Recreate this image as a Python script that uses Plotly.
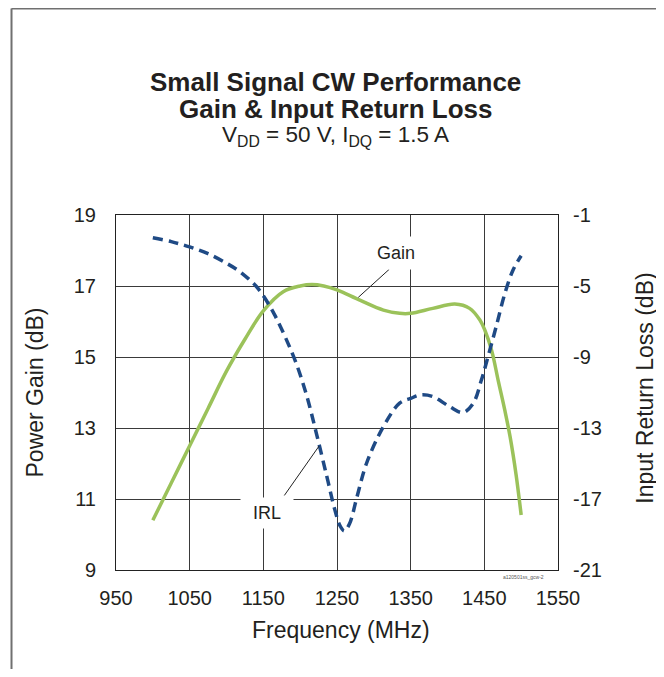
import plotly.graph_objects as go

# ---- data ----
gain_freq = [1000, 1025, 1050, 1075, 1100, 1125, 1150, 1177, 1200, 1216, 1232, 1250,
             1281, 1313, 1335, 1350, 1380, 1410, 1430, 1444, 1451, 1460, 1469, 1478,
             1485, 1493, 1500]
gain_db = [10.4, 11.45, 12.5, 13.55, 14.6, 15.5, 16.3, 16.84, 17.0, 17.04, 17.0, 16.89,
           16.6, 16.32, 16.23, 16.23, 16.37, 16.49, 16.37, 16.04, 15.74, 15.18, 14.32, 13.48,
           12.75, 11.7, 10.55]

irl_freq = [1000, 1025, 1050, 1075, 1100, 1115, 1130, 1140, 1150, 1165, 1180, 1195, 1209,
            1222, 1236, 1247, 1254, 1260, 1267, 1277, 1290, 1313, 1335, 1350, 1363, 1380,
            1403, 1421, 1435, 1446, 1455, 1466, 1478, 1489, 1500]
irl_db = [-2.28, -2.5, -2.8, -3.18, -3.72, -4.1, -4.6, -5.0, -5.55, -6.6, -7.9, -9.4, -11.2,
          -13.3, -15.7, -17.6, -18.5, -18.8, -18.4, -16.9, -15.0, -12.92, -11.6, -11.33, -11.14, -11.23,
          -11.8, -12.13, -11.6, -10.3, -8.98, -7.3, -5.4, -4.1, -3.3]

x_ticks = [950, 1050, 1150, 1250, 1350, 1450, 1550]
gain_ticks = [9, 11, 13, 15, 17, 19]
irl_ticks = [-21, -17, -13, -9, -5, -1]

FONT = "Liberation Sans, Arial, Helvetica, sans-serif"
TXT = "#231f20"
GREEN = "#9bc25a"
BLUE = "#1f4a85"

fig = go.Figure()
fig.add_trace(go.Scatter(x=gain_freq, y=gain_db, mode="lines", name="Gain",
                         line=dict(color=GREEN, width=3.5, shape="spline", smoothing=1),
                         yaxis="y", showlegend=False))
fig.add_trace(go.Scatter(x=irl_freq, y=irl_db, mode="lines", name="IRL",
                         line=dict(color=BLUE, width=3.5, shape="spline", smoothing=1,
                                   dash="10px,6px"),
                         yaxis="y2", showlegend=False))

grid = "#3a3a3a"
fig.update_layout(
    width=656, height=661,
    margin=dict(l=108, r=106, t=207, b=99),
    paper_bgcolor="white", plot_bgcolor="white",
    font=dict(family=FONT, color=TXT, size=20),
    xaxis=dict(range=[950, 1550], tickvals=x_ticks, ticktext=[str(v) for v in x_ticks],
               showgrid=True, gridcolor=grid, gridwidth=1, zeroline=False,
               showline=True, linecolor="#222", linewidth=1, mirror=True,
               ticks="", ticklabelstandoff=10, tickfont=dict(size=20, family=FONT, color=TXT)),
    yaxis=dict(range=[9, 19], tickvals=gain_ticks, ticktext=[str(v) for v in gain_ticks],
               showgrid=True, gridcolor=grid, gridwidth=1, zeroline=False,
               showline=True, linecolor="#222", linewidth=1, mirror=True,
               ticks="", ticklabelstandoff=15, tickfont=dict(size=20, family=FONT, color=TXT)),
    yaxis2=dict(range=[-21, -1], tickvals=irl_ticks, ticktext=[str(v) for v in irl_ticks],
                overlaying="y", side="right", showgrid=False, zeroline=False,
                showline=False, ticks="", ticklabelstandoff=14,
                tickfont=dict(size=20, family=FONT, color=TXT)),
)

def note(text, x, y, size, **kw):
    fig.add_annotation(text=text, xref="paper", yref="paper", x=x, y=y,
                       xanchor="center", yanchor="middle", showarrow=False,
                       font=dict(size=size, family=FONT, color=TXT), **kw)

# titles
note("<b>Small Signal CW Performance</b>", 0.4955, 1.3746, 26)
note("<b>Gain & Input Return Loss</b>", 0.4955, 1.2986, 26)
note("V<sub>DD</sub> = 50 V, I<sub>DQ</sub> = 1.5 A", 0.4955, 1.2225, 22.5)

# axis titles
note("Frequency (MHz)", 0.510, -0.169, 23)
note("Power Gain (dB)", -0.1833, 0.5, 23, textangle=-90)
note("Input Return Loss (dB)", 1.198, 0.512, 23, textangle=-90)

# curve labels with leader lines
fig.add_shape(type="line", xref="x", yref="y", x0=1320.9, y0=17.47, x1=1278.9, y1=16.68,
              line=dict(color="#222", width=1))
fig.add_shape(type="line", xref="x", yref="y", x0=1178.5, y0=11.1, x1=1225.6, y1=12.49,
              line=dict(color="#222", width=1))
fig.add_annotation(text="Gain", xref="x", yref="y", x=1329.6, y=17.92, showarrow=False,
                   xanchor="center", yanchor="middle",
                   bgcolor="white", width=52, height=30, font=dict(size=18, family=FONT, color=TXT))
fig.add_annotation(text="IRL", xref="x", yref="y", x=1155, y=10.61, showarrow=False,
                   xanchor="center", yanchor="middle",
                   bgcolor="white", width=50, height=28, font=dict(size=18, family=FONT, color=TXT))

# small figure id
fig.add_annotation(text="a120501ss_gcw-2", xref="paper", yref="paper", x=0.921, y=-0.02,
                   xanchor="center", yanchor="middle",
                   showarrow=False, font=dict(size=5, family=FONT, color="#555"))

# outer frame (left, top, right edges; open at the bottom of the view)
frame = dict(color="#707070", width=2)
fx0, fx1, fy_top, fy_bot = -0.2364, 1.224, 1.5817, -0.45
fig.add_shape(type="line", xref="paper", yref="paper", x0=fx0, x1=fx0, y0=fy_bot, y1=fy_top, line=frame)
fig.add_shape(type="line", xref="paper", yref="paper", x0=fx0, x1=fx1, y0=fy_top, y1=fy_top, line=frame)
fig.add_shape(type="line", xref="paper", yref="paper", x0=fx1, x1=fx1, y0=fy_bot, y1=fy_top, line=frame)

fig.write_html("out.html")
